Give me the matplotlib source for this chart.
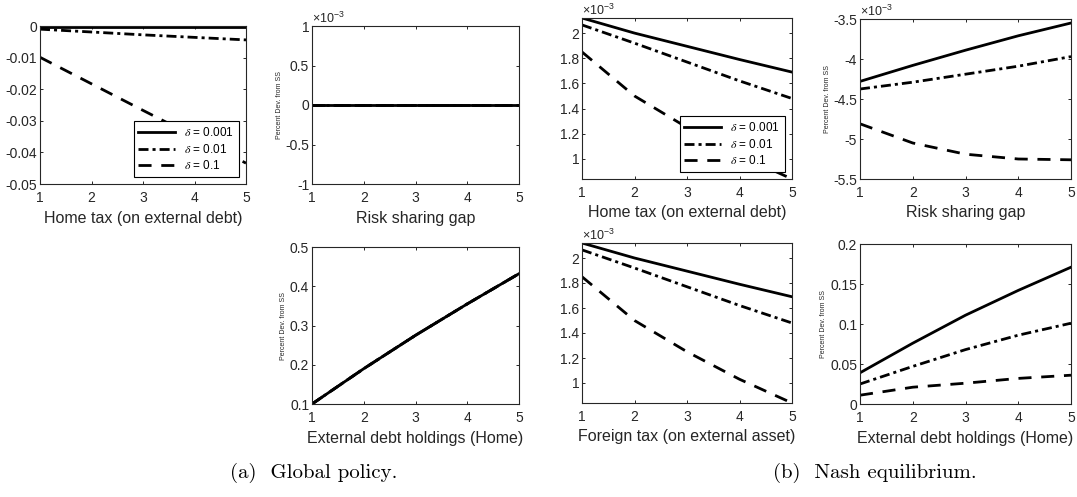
import matplotlib
matplotlib.use('Agg')
import matplotlib.pyplot as plt
from matplotlib.ticker import FuncFormatter

plt.rcParams.update({
    'font.family': ['Liberation Sans', 'DejaVu Sans'],
    'axes.unicode_minus': False,
    'mathtext.fontset': 'custom',
    'mathtext.rm': 'Liberation Sans',
    'mathtext.it': 'Liberation Sans:italic',
    'mathtext.bf': 'Liberation Sans:bold',
    'lines.scale_dashes': False,
})

W, H = 1077, 497
INK = '#262626'

steps = [1, 2, 3, 4, 5]
deltas = ['0.001', '0.01', '0.1']

# global policy
glob_tax = [
    [-0.0003, -0.0003, -0.0003, -0.0003, -0.0003],
    [-0.0010, -0.0019, -0.0028, -0.0036, -0.0044],
    [-0.0099, -0.0183, -0.0267, -0.0350, -0.0434],
]
glob_gap = [
    [0.0, 0.0, 0.0, 0.0, 0.0],
    [0.0, 0.0, 0.0, 0.0, 0.0],
    [0.0, 0.0, 0.0, 0.0, 0.0],
]
glob_debt = [
    [0.100, 0.190, 0.275, 0.355, 0.432],
    [0.100, 0.190, 0.275, 0.355, 0.432],
    [0.100, 0.190, 0.275, 0.355, 0.432],
]

# nash equilibrium
nash_home_tax = [
    [2.120e-3, 2.000e-3, 1.895e-3, 1.790e-3, 1.690e-3],
    [2.065e-3, 1.920e-3, 1.770e-3, 1.620e-3, 1.480e-3],
    [1.850e-3, 1.500e-3, 1.250e-3, 1.030e-3, 0.840e-3],
]
nash_gap = [
    [-4.280e-3, -4.080e-3, -3.890e-3, -3.710e-3, -3.550e-3],
    [-4.375e-3, -4.290e-3, -4.190e-3, -4.090e-3, -3.970e-3],
    [-4.810e-3, -5.050e-3, -5.190e-3, -5.250e-3, -5.260e-3],
]
nash_foreign_tax = [
    [2.120e-3, 2.000e-3, 1.895e-3, 1.790e-3, 1.690e-3],
    [2.065e-3, 1.920e-3, 1.770e-3, 1.620e-3, 1.480e-3],
    [1.850e-3, 1.500e-3, 1.250e-3, 1.030e-3, 0.840e-3],
]
nash_debt = [
    [0.039, 0.076, 0.111, 0.142, 0.171],
    [0.025, 0.047, 0.068, 0.086, 0.101],
    [0.011, 0.021, 0.026, 0.032, 0.036],
]

styles = ['-', (0, (7.2, 2.9, 2.2, 2.9)), (0, (9.4, 7.0))]

fig = plt.figure(figsize=(W / 100, H / 100), dpi=100)


def box(l, t, r, b):
    return [l / W, 1 - b / H, (r - l) / W, (b - t) / H]


def panel(rect, series, xlabel, ylim, yticks, scale=1.0, ylabel=True, legend=False):
    ax = fig.add_axes(box(*rect))
    handles = []
    for vals, ls in zip(series, styles):
        h, = ax.plot(steps, vals, color='black', lw=2, linestyle=ls)
        handles.append(h)
    ax.set_xlim(1, 5)
    if ylim is None:
        lo = min(min(v) for v in series)
        hi = max(max(v) for v in series)
        ylim = (lo, hi)
    ax.set_ylim(*ylim)
    ax.set_xticks(steps)
    ax.set_yticks(yticks)
    ax.yaxis.set_major_formatter(FuncFormatter(lambda v, p: '%g' % round(v / scale, 6)))
    ax.xaxis.set_major_formatter(FuncFormatter(lambda v, p: '%g' % v))
    ax.tick_params(direction='in', length=2.5, width=0.7, top=True, right=True,
                   labelsize=10, colors=INK, labelcolor=INK)
    ax.tick_params(axis='x', pad=5)
    ax.tick_params(axis='y', pad=2)
    for s in ax.spines.values():
        s.set_linewidth(0.8)
        s.set_color(INK)
    ax.set_xlabel(xlabel, fontsize=11.5, color=INK, labelpad=4)
    if ylabel:
        ax.set_ylabel('Percent Dev. from SS', fontsize=5, color=INK, labelpad=2)
    if scale != 1.0:
        ax.text(0.0, 1.0, r'$\times10^{-3}$', transform=ax.transAxes,
                ha='left', va='bottom', fontsize=9, color=INK)
    if legend:
        leg = ax.legend(handles, [r'$\delta$ = ' + d for d in deltas], loc='lower right',
                        fontsize=8.5, handlelength=3.1, fancybox=False, framealpha=1,
                        edgecolor='black', borderaxespad=0.6, borderpad=0.4,
                        labelspacing=0.3, handletextpad=0.8)
        leg.get_frame().set_linewidth(0.8)
        for t in leg.get_texts():
            t.set_math_fontfamily('stix')
    return ax


# (a) global policy
panel((40, 26, 246, 184), glob_tax, 'Home tax (on external debt)', (-0.05, 0),
      [-0.05, -0.04, -0.03, -0.02, -0.01, 0], ylabel=False, legend=True)
panel((312, 26, 519, 184), glob_gap, 'Risk sharing gap', (-1e-3, 1e-3),
      [-1e-3, -0.5e-3, 0, 0.5e-3, 1e-3], scale=1e-3)
panel((312, 247, 519, 404), glob_debt, 'External debt holdings (Home)', (0.1, 0.5),
      [0.1, 0.2, 0.3, 0.4, 0.5])

# (b) nash equilibrium
panel((582, 18, 792, 179), nash_home_tax, 'Home tax (on external debt)', None,
      [1e-3, 1.2e-3, 1.4e-3, 1.6e-3, 1.8e-3, 2e-3], scale=1e-3, ylabel=False, legend=True)
panel((860, 19, 1071, 179), nash_gap, 'Risk sharing gap', (-5.5e-3, -3.5e-3),
      [-5.5e-3, -5e-3, -4.5e-3, -4e-3, -3.5e-3], scale=1e-3)
panel((582, 243, 792, 403), nash_foreign_tax, 'Foreign tax (on external asset)', None,
      [1e-3, 1.2e-3, 1.4e-3, 1.6e-3, 1.8e-3, 2e-3], scale=1e-3, ylabel=False)
panel((860, 244, 1071, 404), nash_debt, 'External debt holdings (Home)', (0, 0.2),
      [0, 0.05, 0.1, 0.15, 0.2])

fig.text(230 / W, 1 - 478 / H, '(a)  Global policy.', fontfamily='cmr10', fontsize=15,
         ha='left', va='baseline', color='black')
fig.text(773 / W, 1 - 478 / H, '(b)  Nash equilibrium.', fontfamily='cmr10', fontsize=15,
         ha='left', va='baseline', color='black')

fig.savefig('out.png', dpi=100)
